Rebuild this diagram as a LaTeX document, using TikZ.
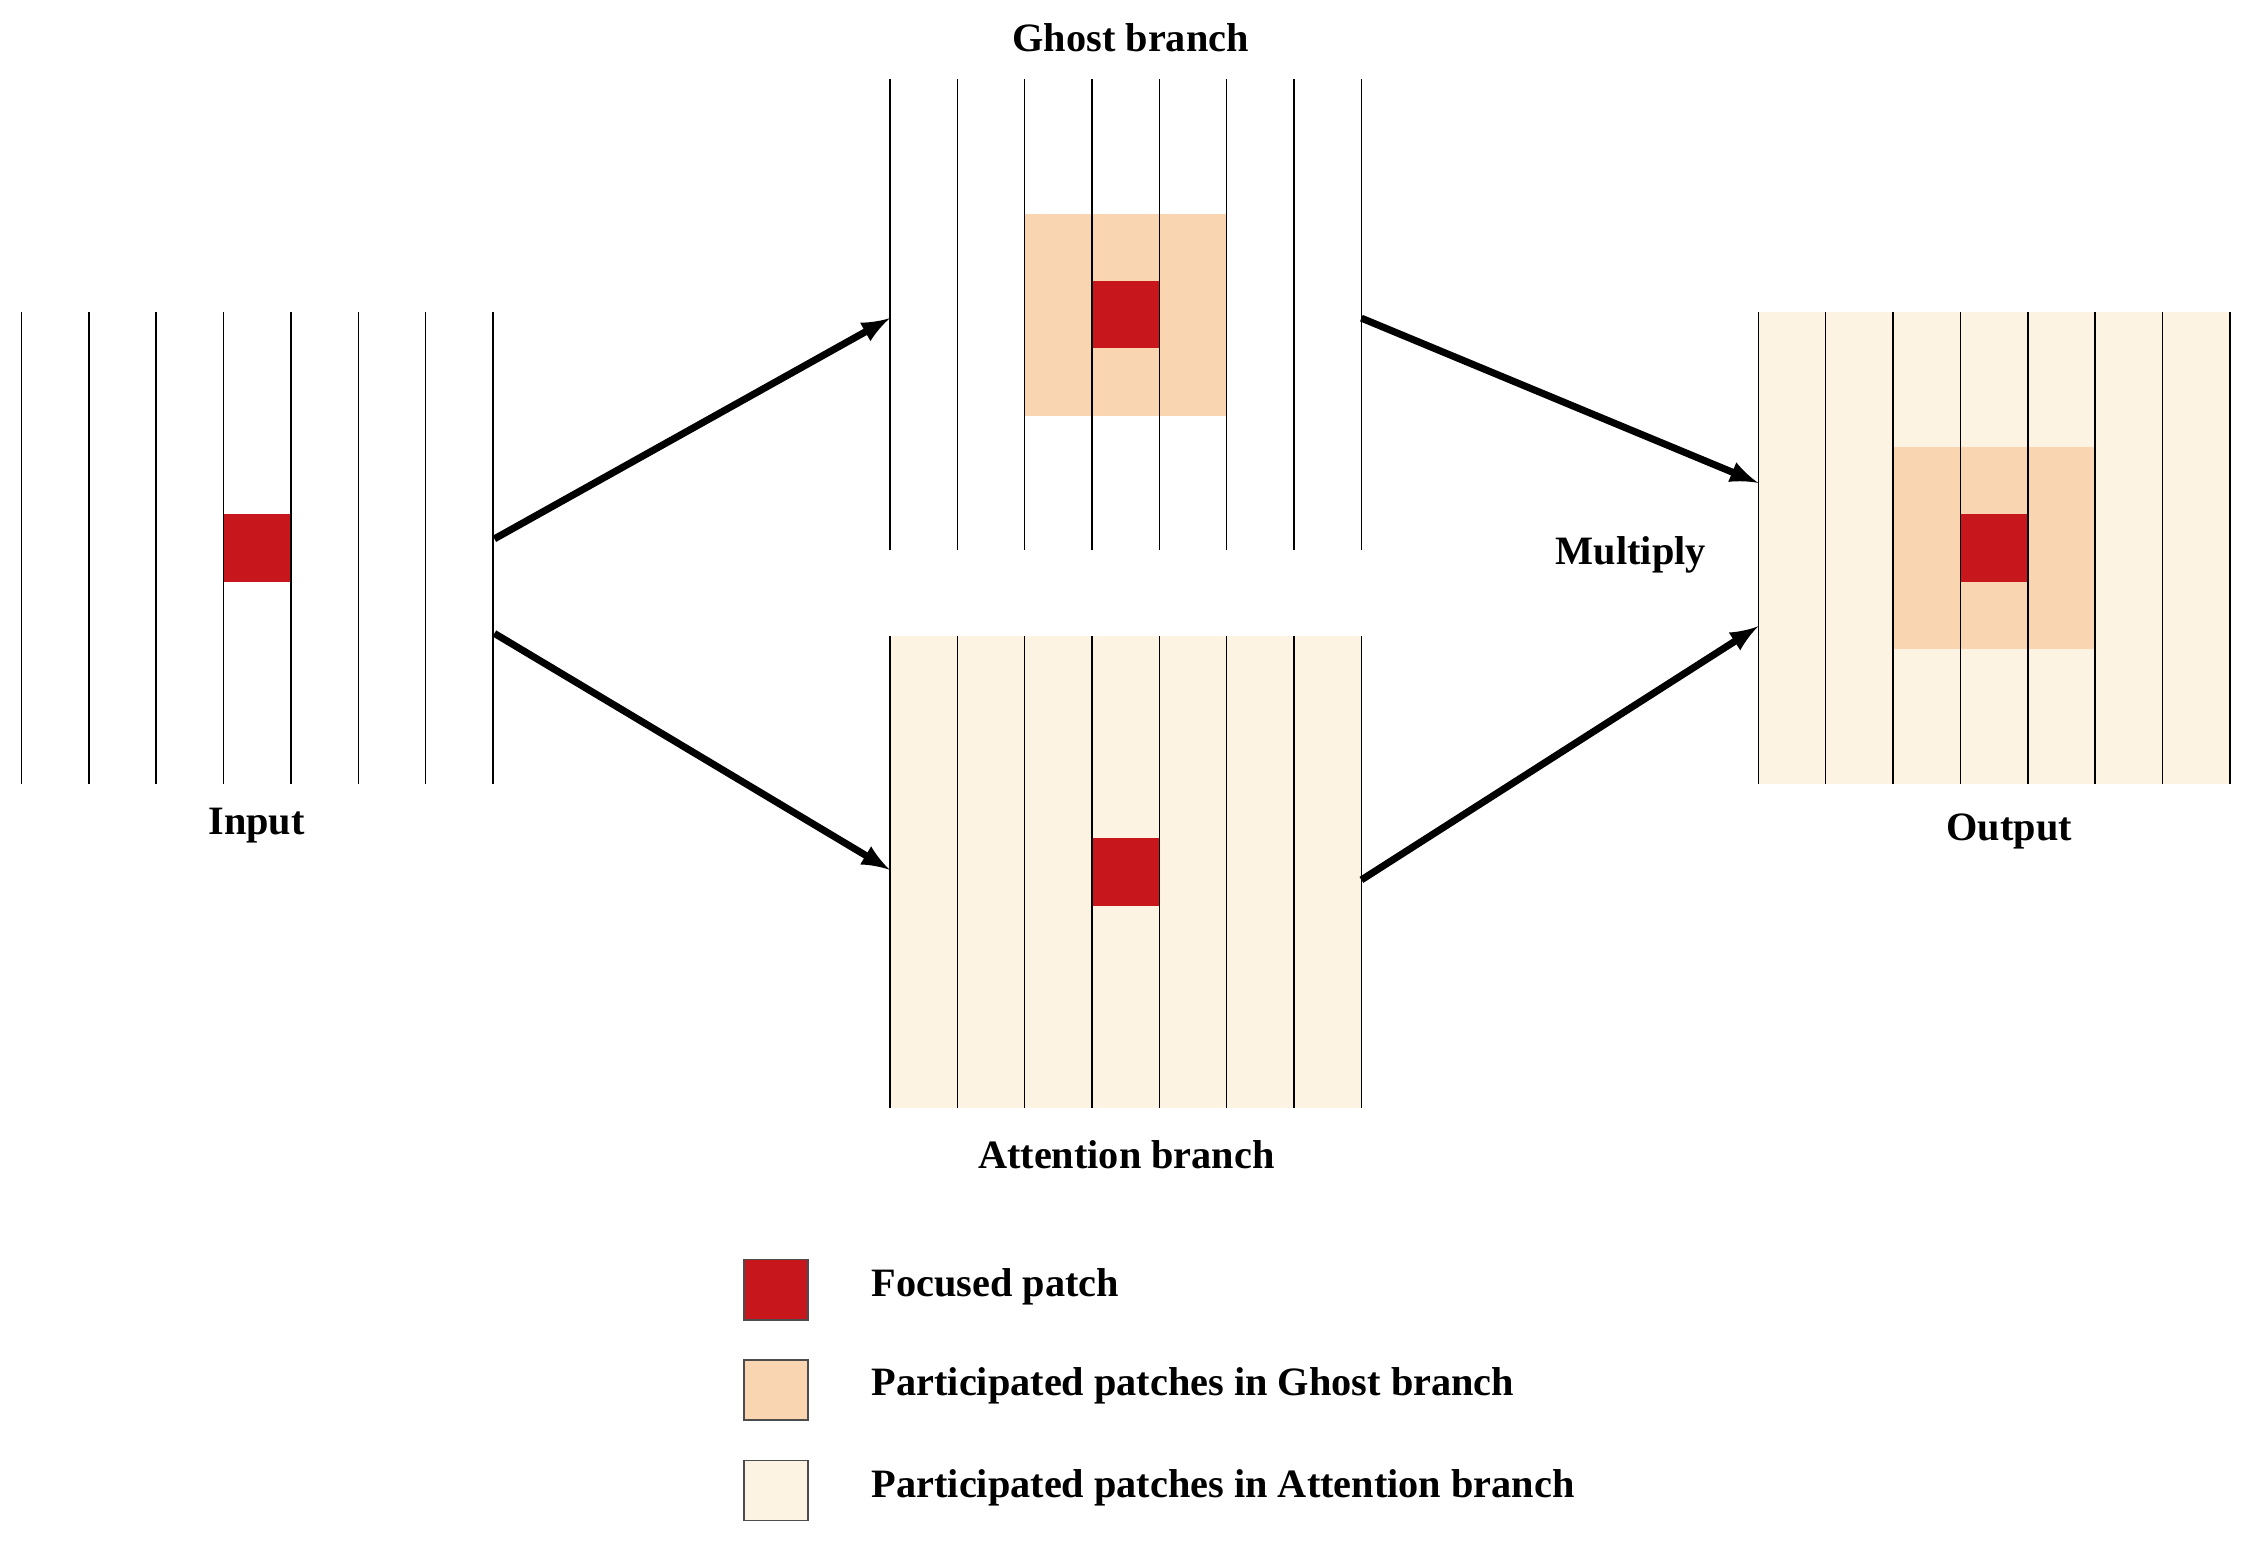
\documentclass[tikz,border=0pt]{standalone}
\usepackage{fontspec}
\setmainfont{Liberation Serif}
\begin{document}
\begin{tikzpicture}[x=0.02cm,y=-0.02cm,
  lbl/.style={font=\fontsize{16}{18}\selectfont\bfseries},
  gl/.style={line width=0.6pt,black},
  arr/.style={line width=2.8pt,-latex,shorten >=0pt},
  leg/.style={draw=black!70,line width=0.6pt,minimum width=0.9cm,minimum height=0.84cm,inner sep=0pt}]
\definecolor{red1}{HTML}{C8161D}
\definecolor{peach}{HTML}{FAD5B2}
\definecolor{cream}{HTML}{FDF3E2}
\useasboundingbox (0,0) rectangle (1568,1079);
% cell size 47
\def\cs{47}
% Input
\begin{scope}[shift={(15,218)}]
 \fill[red1] (3*\cs,3*\cs) rectangle (4*\cs,4*\cs);
 \draw[gl,step=\cs] (0,0) grid (7*\cs,7*\cs);
\end{scope}
\node[minimum width=6.6cm,minimum height=6.58cm] (input) at (180,382) {};
% Ghost
\begin{scope}[shift={(621,55)}]
 \fill[peach] (2*\cs,2*\cs) rectangle (5*\cs,5*\cs);
 \fill[red1] (3*\cs,3*\cs) rectangle (4*\cs,4*\cs);
 \draw[gl,step=\cs] (0,0) grid (7*\cs,7*\cs);
\end{scope}
\node[minimum width=6.6cm,minimum height=6.58cm] (ghost) at (786,219) {};
% Attention
\begin{scope}[shift={(621,444)}]
 \fill[cream] (0,0) rectangle (7*\cs,7*\cs);
 \fill[red1] (3*\cs,3*\cs) rectangle (4*\cs,4*\cs);
 \draw[gl,step=\cs] (0,0) grid (7*\cs,7*\cs);
\end{scope}
\node[minimum width=6.6cm,minimum height=6.58cm] (att) at (786,608) {};
% Output
\begin{scope}[shift={(1227,218)}]
 \fill[cream] (0,0) rectangle (7*\cs,7*\cs);
 \fill[peach] (2*\cs,2*\cs) rectangle (5*\cs,5*\cs);
 \fill[red1] (3*\cs,3*\cs) rectangle (4*\cs,4*\cs);
 \draw[gl,step=\cs] (0,0) grid (7*\cs,7*\cs);
\end{scope}
\node[minimum width=6.6cm,minimum height=6.58cm] (out) at (1392,382) {};
% arrow endpoints
\coordinate (a1) at (345,376); \coordinate (a2) at (621,222);
\coordinate (b1) at (345,442); \coordinate (b2) at (621,607);
\coordinate (c1) at (950,222); \coordinate (c2) at (1227,337);
\coordinate (d1) at (950,614); \coordinate (d2) at (1227,437);
\draw[arr] (a1) -- (a2);
\draw[arr] (b1) -- (b2);
\draw[arr] (c1) -- (c2);
\draw[arr] (d1) -- (d2);
% labels
\node[lbl] (tg) at (789,26) {Ghost branch};
\node[lbl] (ti) at (179,576) {Input};
\node[lbl] (ta) at (786,806) {Attention branch};
\node[lbl] (tm) at (1138,387) {Multiply};
\node[lbl] (to) at (1402,580) {Output};
% legend
\node[leg,fill=red1] (l1) at (541.5,900) {};
\node[leg,fill=peach] (l2) at (541.5,970) {};
\node[leg,fill=cream] (l3) at (541.5,1040) {};
\node[lbl,anchor=west,inner sep=0pt] (t1) at (608,898) {Focused patch};
\node[lbl,anchor=west,inner sep=0pt] (t2) at (608,967) {Participated patches in Ghost branch};
\node[lbl,anchor=west,inner sep=0pt] (t3) at (608,1038) {Participated patches in Attention branch};
\end{tikzpicture}
\end{document}
